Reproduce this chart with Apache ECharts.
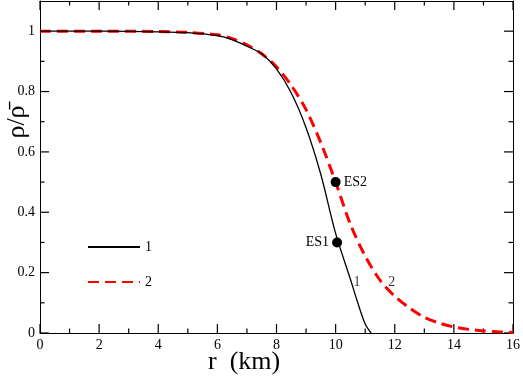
<!DOCTYPE html>
<html>
<head>
<meta charset="utf-8">
<script src="https://cdn.jsdelivr.net/npm/echarts@6/dist/echarts.min.js"></script>
<style>
  html, body { margin: 0; padding: 0; background: #fff; }
  #chart { width: 523px; height: 377px; }
</style>
</head>
<body>
<div id="chart"></div>
<script>
// profile 1 (black, solid)
const r1 = [0, 2, 4, 5, 6, 6.5, 7, 7.5, 8, 8.5, 9, 9.5, 10, 10.5, 10.75, 11, 11.2];
const rho1 = [1, 1, 0.998, 0.995, 0.985, 0.972, 0.95, 0.925, 0.875, 0.795, 0.68, 0.525, 0.33, 0.178, 0.1, 0.03, 0];

// profile 2 (red, dashed)
const r2 = [0, 2, 4, 5, 6, 6.5, 7, 7.5, 8, 8.5, 9, 9.5, 10, 10.5, 11, 11.5, 12, 12.5, 13, 13.5, 14, 14.5, 15, 15.5, 16];
const rho2 = [1, 1, 0.999, 0.996, 0.988, 0.975, 0.955, 0.925, 0.882, 0.82, 0.74, 0.63, 0.5, 0.36, 0.255, 0.175, 0.122, 0.083, 0.052, 0.033, 0.02, 0.012, 0.007, 0.004, 0.002];

// marked points
const esNames = ['ES1', 'ES2'];
const esR = [10.05, 10.0];
const esRho = [0.30, 0.5];

// curve tags
const tagText = ['1', '2'];
const tagR = [10.72, 11.9];
const tagRho = [0.167, 0.167];

// frame ticks (drawn on all four sides, pointing inward)
const xMajorTicks = [0, 2, 4, 6, 8, 10, 12, 14, 16];
const xMinorTicks = [1, 3, 5, 7, 9, 11, 13, 15];
const yMajorTicks = [0, 0.2, 0.4, 0.6, 0.8, 1.0];
const yMinorTicks = [0.1, 0.3, 0.5, 0.7, 0.9];

const xRange = { min: 0, max: 16, interval: 2 };
const yRange = { min: 0, max: 1.1, interval: 0.2 };

const serif = '"Liberation Serif", "DejaVu Serif", serif';
const MAJOR_LEN = 9;
const MINOR_LEN = 4.5;

function pairs(xs, ys) {
  return xs.map((x, i) => [x, ys[i]]);
}

// [x, y, side (0 = x ticks, 1 = y ticks), major]
const tickData = []
  .concat(xMajorTicks.map(v => [v, yRange.min, 0, 1]))
  .concat(xMinorTicks.map(v => [v, yRange.min, 0, 0]))
  .concat(yMajorTicks.map(v => [xRange.min, v, 1, 1]))
  .concat(yMinorTicks.map(v => [xRange.min, v, 1, 0]));

function renderTick(params, api) {
  const side = api.value(2);
  const len = api.value(3) ? MAJOR_LEN : MINOR_LEN;
  const style = { stroke: '#000', lineWidth: 1.2 };
  if (side === 0) {
    const v = api.value(0);
    const b = api.coord([v, yRange.min]);
    const t = api.coord([v, yRange.max]);
    return {
      type: 'group',
      children: [
        { type: 'line', shape: { x1: b[0], y1: b[1], x2: b[0], y2: b[1] - len }, style: style },
        { type: 'line', shape: { x1: t[0], y1: t[1], x2: t[0], y2: t[1] + len }, style: style }
      ]
    };
  }
  const v = api.value(1);
  const l = api.coord([xRange.min, v]);
  const r = api.coord([xRange.max, v]);
  return {
    type: 'group',
    children: [
      { type: 'line', shape: { x1: l[0], y1: l[1], x2: l[0] + len, y2: l[1] }, style: style },
      { type: 'line', shape: { x1: r[0], y1: r[1], x2: r[0] - len, y2: r[1] }, style: style }
    ]
  };
}

const chart = echarts.init(document.getElementById('chart'));

function xAxisDef(position) {
  return {
    type: 'value',
    position: position,
    min: xRange.min,
    max: xRange.max,
    interval: xRange.interval,
    axisLine: { show: true, onZero: false, lineStyle: { color: '#000', width: 1 } },
    axisTick: { show: false },
    axisLabel: {
      show: position === 'bottom',
      color: '#000',
      fontFamily: serif,
      fontSize: 14,
      margin: 5
    },
    splitLine: { show: false }
  };
}

function yAxisDef(position) {
  return {
    type: 'value',
    position: position,
    min: yRange.min,
    max: yRange.max,
    interval: yRange.interval,
    axisLine: { show: true, onZero: false, lineStyle: { color: '#000', width: 1 } },
    axisTick: { show: false },
    axisLabel: {
      show: position === 'left',
      showMaxLabel: false,
      color: '#000',
      fontFamily: serif,
      fontSize: 14,
      margin: 5
    },
    splitLine: { show: false }
  };
}

const option = {
  animation: false,
  backgroundColor: '#fff',
  grid: { left: 40, right: 9, top: 1, bottom: 44 },
  legend: {
    data: ['1', '2'],
    orient: 'vertical',
    left: 82,
    top: 235,
    itemWidth: 52,
    itemHeight: 14,
    itemGap: 21,
    itemStyle: { opacity: 0 },
    textStyle: { color: '#000', fontFamily: serif, fontSize: 14 }
  },
  xAxis: [xAxisDef('bottom'), xAxisDef('top')],
  yAxis: [yAxisDef('left'), yAxisDef('right')],
  graphic: [
    {
      type: 'text',
      x: 17, y: 122,
      rotation: Math.PI / 2,
      style: {
        text: 'ρ/ρ\u0304',
        fontFamily: serif,
        fontSize: 26,
        fill: '#000',
        align: 'center',
        verticalAlign: 'middle'
      }
    },
    {
      type: 'text',
      left: 208, top: 349,
      style: {
        text: 'r  (km)',
        fontFamily: serif,
        fontSize: 26,
        fill: '#000'
      }
    }
  ],
  series: [
    {
      name: 'frameTicks',
      type: 'custom',
      data: tickData,
      renderItem: renderTick,
      clip: false,
      silent: true,
      z: 1
    },
    {
      name: '1',
      type: 'line',
      data: pairs(r1, rho1),
      smooth: 0.3,
      symbol: 'none',
      lineStyle: { color: '#000', width: 1.3 },
      itemStyle: { color: '#000' },
      z: 3
    },
    {
      name: '2',
      type: 'line',
      data: pairs(r2, rho2),
      smooth: 0.3,
      symbol: 'none',
      lineStyle: { color: '#ff0000', width: 3, type: [11, 6] },
      itemStyle: { color: '#ff0000' },
      z: 2
    },
    {
      name: 'ES',
      type: 'scatter',
      data: esNames.map((n, i) => ({
        value: [esR[i], esRho[i]],
        label: { position: i === 0 ? 'left' : 'right' }
      })),
      symbolSize: 10,
      itemStyle: { color: '#000', opacity: 1 },
      label: {
        show: true,
        formatter: p => esNames[p.dataIndex],
        color: '#000',
        fontFamily: serif,
        fontSize: 14,
        distance: 3
      },
      z: 5
    },
    {
      name: 'tags',
      type: 'scatter',
      data: pairs(tagR, tagRho),
      symbolSize: 1,
      itemStyle: { color: 'rgba(0,0,0,0)' },
      label: {
        show: true,
        position: 'inside',
        formatter: p => tagText[p.dataIndex],
        color: '#000',
        fontFamily: serif,
        fontSize: 14
      },
      z: 5
    }
  ]
};

chart.setOption(option);
</script>
</body>
</html>
